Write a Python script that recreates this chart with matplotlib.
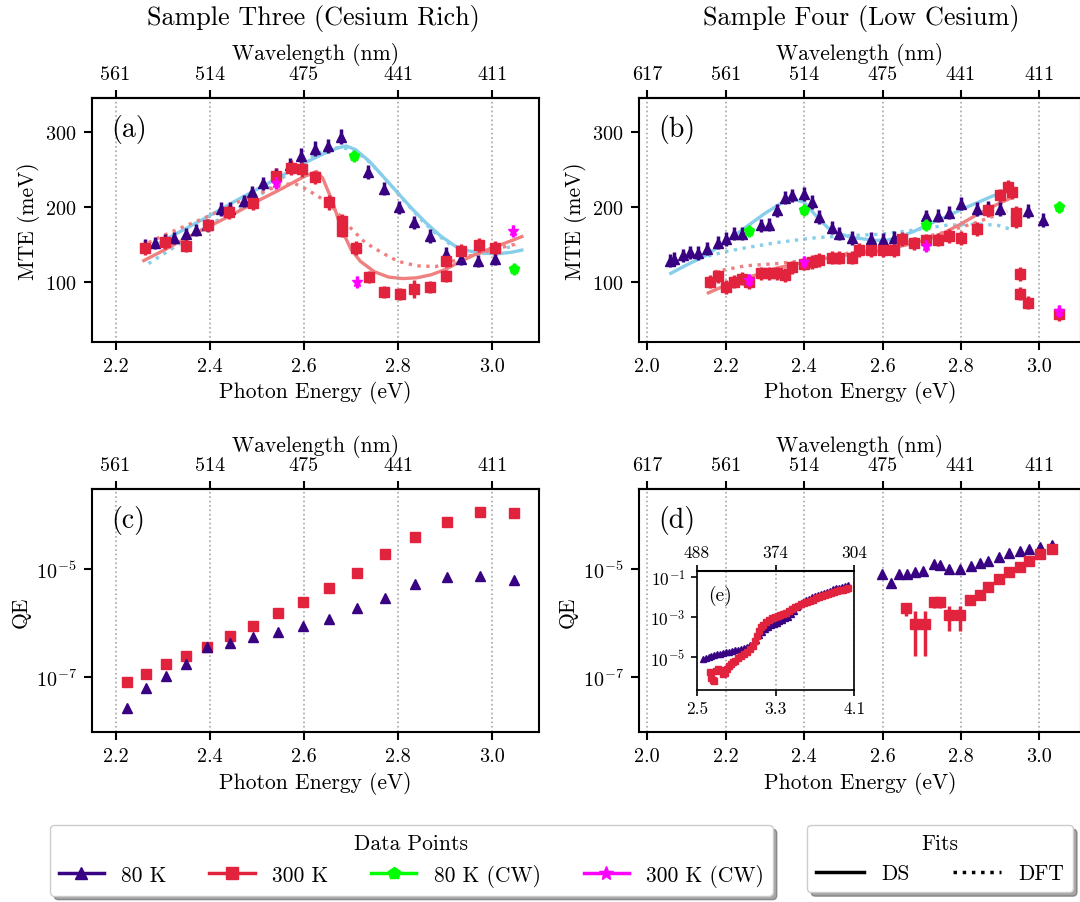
import matplotlib
matplotlib.use("Agg")
import matplotlib.pyplot as plt
import numpy as np
from matplotlib.lines import Line2D
from matplotlib.ticker import NullLocator

plt.rcParams["font.family"] = "serif"
plt.rcParams["font.serif"] = ["cmr10"]
plt.rcParams["mathtext.fontset"] = "cm"
plt.rcParams["axes.formatter.use_mathtext"] = True
plt.rcParams["axes.linewidth"] = 1.5

# colours
c80 = "#380282"
c300 = "#e2233e"
c80cw = "#00ff00"
c300cw = "#ff00ff"
fit80 = "skyblue"
fit300 = "lightcoral"

# ---------------- (a) Sample Three, MTE ----------------
a_e80 = [2.263, 2.284, 2.305, 2.324, 2.350, 2.370, 2.395, 2.424, 2.443, 2.473, 2.489, 2.514,
         2.541, 2.570, 2.594, 2.624, 2.652, 2.678, 2.736, 2.770, 2.802, 2.834, 2.868, 2.901,
         2.933, 2.969, 3.006]
a_mte80 = [148, 151, 155, 158, 163, 169, 176, 197, 197, 207, 219, 231,
           243, 256, 268, 277, 281, 293, 246, 224, 199, 179, 161, 137,
           130, 128, 130]
a_err80 = [9, 8, 8, 8, 8, 8, 8, 9, 9, 8, 9, 9,
           9, 9, 10, 10, 9, 10, 9, 9, 9, 9, 9, 9,
           8, 8, 8]

a_e300 = [2.263, 2.305, 2.349, 2.397, 2.440, 2.491, 2.540, 2.572, 2.595, 2.624, 2.654, 2.680,
          2.680, 2.711, 2.739, 2.770, 2.804, 2.834, 2.867, 2.901, 2.901, 2.934, 2.971, 3.005]
a_mte300 = [145, 153, 148, 175, 193, 205, 241, 252, 250, 239, 206, 181,
            168, 145, 106, 86, 84, 90, 93, 108, 128, 141, 149, 145]
a_err300 = [9, 9, 9, 9, 9, 9, 10, 10, 10, 9, 10, 9,
            9, 9, 8, 8, 8, 12, 8, 8, 9, 9, 9, 9]

a_e80cw = [2.707, 3.046]
a_mte80cw = [268, 117]
a_e300cw = [2.541, 2.712, 3.045]
a_mte300cw = [231, 100, 168]

a_ds80_e = [2.26, 2.30, 2.35, 2.40, 2.45, 2.50, 2.55, 2.60, 2.64, 2.67, 2.69, 2.71, 2.74,
            2.77, 2.80, 2.83, 2.86, 2.89, 2.92, 2.95, 2.98, 3.01, 3.04, 3.063]
a_ds80 = [140, 154, 171, 188, 206, 223, 240, 258, 270, 278, 281, 276, 260,
          239, 218, 197, 178, 161, 148, 141, 138, 137, 139, 142]
a_dft80_e = [2.27, 2.30, 2.35, 2.40, 2.45, 2.50, 2.55, 2.60, 2.63, 2.66, 2.68, 2.70, 2.73,
             2.76, 2.79, 2.82, 2.85, 2.88, 2.91, 2.94, 2.97, 3.00, 3.03, 3.05]
a_dft80 = [124, 136, 156, 176, 194, 212, 236, 260, 271, 278, 279, 276, 265,
           246, 225, 203, 182, 164, 150, 142, 139, 141, 145, 148]
a_ds300_e = [2.26, 2.30, 2.35, 2.40, 2.45, 2.50, 2.55, 2.60, 2.627, 2.64, 2.66, 2.68, 2.70,
             2.72, 2.75, 2.78, 2.81, 2.84, 2.87, 2.90, 2.93, 2.96, 3.00, 3.03, 3.063]
a_ds300 = [128, 141, 158, 174, 190, 207, 223, 240, 247, 238, 208, 170, 143,
           127, 113, 106, 104, 105, 109, 116, 126, 135, 145, 152, 160]
a_dft300_e = [2.27, 2.30, 2.34, 2.40, 2.47, 2.55, 2.58, 2.60, 2.63, 2.66, 2.70, 2.73, 2.77,
              2.80, 2.84, 2.88, 2.91, 2.95, 2.98, 3.01, 3.05]
a_dft300 = [152, 161, 172, 188, 209, 229, 231, 225, 214, 200, 171, 152, 137,
            127, 121, 120, 126, 134, 139, 144, 150]

# ---------------- (b) Sample Four, MTE ----------------
b_e80 = [2.058, 2.069, 2.090, 2.109, 2.129, 2.152, 2.180, 2.200, 2.220, 2.241, 2.290, 2.310,
         2.330, 2.351, 2.370, 2.400, 2.419, 2.438, 2.470, 2.490, 2.521, 2.571, 2.600, 2.630,
         2.711, 2.741, 2.770, 2.799, 2.840, 2.870, 2.900, 2.970, 3.010]
b_mte80 = [128, 130, 135, 139, 138, 144, 152, 157, 164, 164, 175, 176,
           195, 212, 215, 217, 206, 186, 172, 164, 158, 157, 156, 158,
           187, 188, 192, 204, 197, 199, 197, 194, 182]
b_err80 = [9] * len(b_e80)

b_e300 = [2.160, 2.180, 2.200, 2.220, 2.241, 2.260, 2.290, 2.310, 2.330, 2.351, 2.370, 2.400,
          2.419, 2.438, 2.470, 2.490, 2.521, 2.541, 2.571, 2.600, 2.630, 2.650, 2.681, 2.711,
          2.741, 2.770, 2.799, 2.840, 2.870, 2.900, 2.921, 2.929, 2.940, 2.940, 2.951, 2.951,
          2.970, 3.050]
b_mte300 = [100, 107, 93, 100, 104, 99, 111, 111, 111, 109, 119, 124,
            126, 129, 132, 132, 132, 142, 142, 142, 142, 157, 151, 155,
            156, 161, 158, 170, 195, 215, 226, 219, 192, 181, 110, 84,
            72, 57]
b_err300 = [9] * len(b_e300)

b_e80cw = [2.260, 2.400, 2.711, 3.050]
b_mte80cw = [168, 196, 175, 200]
b_e300cw = [2.260, 2.400, 2.711, 3.050]
b_mte300cw = [102, 126, 147, 61]

b_ds80_e = [2.06, 2.10, 2.15, 2.20, 2.25, 2.30, 2.34, 2.37, 2.40, 2.43, 2.46, 2.49,
            2.52, 2.55, 2.58, 2.61, 2.64, 2.68, 2.72, 2.76, 2.80, 2.84, 2.88, 2.92]
b_ds80 = [111, 122, 135, 153, 172, 191, 204, 210, 206, 188, 172, 164,
          159, 157, 155, 155, 159, 167, 177, 186, 196, 205, 214, 222]
b_dft80_e = [2.155, 2.20, 2.25, 2.33, 2.42, 2.50, 2.59, 2.67, 2.76, 2.84, 2.895, 2.925]
b_dft80 = [134, 140, 145, 152, 158, 161, 163, 168, 175, 177, 175, 170]
b_ds300_e = [2.156, 2.20, 2.25, 2.33, 2.42, 2.50, 2.59, 2.67, 2.72, 2.76, 2.80, 2.84, 2.88, 2.925]
b_ds300 = [85, 95, 104, 118, 128, 135, 141, 150, 157, 166, 177, 189, 200, 211]
b_dft300_e = [2.170, 2.25, 2.33, 2.42, 2.50, 2.59, 2.67, 2.76, 2.84, 2.918]
b_dft300 = [113, 121, 124, 129, 137, 143, 155, 166, 179, 194]

# ---------------- (c) Sample Three, QE (log10) ----------------
c_e = [2.224, 2.265, 2.307, 2.350, 2.395, 2.443, 2.493, 2.545, 2.598, 2.654, 2.712, 2.772,
       2.836, 2.903, 2.973, 3.046]
c_logqe300 = [-7.09, -6.94, -6.76, -6.61, -6.44, -6.24, -6.05, -5.82, -5.62, -5.35, -5.07, -4.73,
              -4.40, -4.13, -3.95, -3.96]
c_logqe80 = [-7.57, -7.21, -6.99, -6.76, -6.45, -6.37, -6.26, -6.16, -6.05, -5.92, -5.72, -5.54,
             -5.28, -5.14, -5.12, -5.20]

# ---------------- (d) Sample Four, QE (log10) ----------------
d_e80 = [2.598, 2.621, 2.642, 2.662, 2.683, 2.704, 2.730, 2.747, 2.770, 2.798, 2.825, 2.849,
         2.870, 2.898, 2.923, 2.951, 2.973, 3.002, 3.031]
d_logqe80 = [-5.09, -5.25, -5.09, -5.09, -5.06, -5.03, -4.91, -4.93, -4.99, -5.00, -4.94, -4.89,
             -4.85, -4.78, -4.71, -4.66, -4.63, -4.60, -4.55]
d_e300 = [2.659, 2.683, 2.707, 2.730, 2.747, 2.770, 2.798, 2.823, 2.849, 2.870, 2.898, 2.923,
          2.951, 2.973, 3.002, 3.031]
d_logqe300 = [-5.73, -6.02, -6.02, -5.62, -5.62, -5.85, -5.85, -5.57, -5.48, -5.34, -5.19, -5.06,
              -4.97, -4.86, -4.72, -4.62]
d_err300 = [0.50, 0.71, 0.71, 0.50, 0.50, 0.69, 0.69, 0.40, 0.35, 0.30, 0.35, 0.40,
            0.40, 0.40, 0.40, 0.40]  # in 1e-6

# ---------------- (e) inset, wide range QE (log10) ----------------
e_e80 = [2.56, 2.59, 2.62, 2.65, 2.68, 2.71, 2.74, 2.77, 2.80, 2.83, 2.86, 2.89, 2.92, 2.95,
         2.98, 3.01, 3.04, 3.07, 3.10, 3.13, 3.16, 3.19, 3.22, 3.25, 3.28, 3.31, 3.34, 3.37,
         3.40, 3.43, 3.46, 3.49, 3.52, 3.55, 3.58, 3.61, 3.64, 3.67, 3.70, 3.73, 3.76, 3.79,
         3.82, 3.85, 3.88, 3.91, 3.94, 3.97, 4.00, 4.03]
e_logqe80 = [-5.10, -5.06, -5.03, -4.97, -4.92, -4.88, -4.84, -4.80, -4.77, -4.74, -4.71, -4.68,
             -4.64, -4.60, -4.55, -4.49, -4.42, -4.32, -4.15, -3.92, -3.75, -3.62, -3.52, -3.43,
             -3.36, -3.29, -3.22, -3.16, -3.08, -3.00, -2.88, -2.72, -2.52, -2.38, -2.27, -2.18,
             -2.10, -2.03, -1.97, -1.92, -1.86, -1.80, -1.74, -1.69, -1.63, -1.58, -1.54, -1.50,
             -1.46, -1.42]
e_e300 = [2.63, 2.65, 2.665, 2.68, 2.70, 2.72, 2.745, 2.77, 2.79, 2.81, 2.83, 2.85, 2.87, 2.89,
          2.92, 2.95, 2.98, 3.01, 3.04, 3.07, 3.09, 3.11, 3.13, 3.15, 3.17, 3.20, 3.23, 3.26,
          3.29, 3.32, 3.35, 3.38, 3.41, 3.44, 3.47, 3.50, 3.53, 3.56, 3.59, 3.62, 3.65, 3.68,
          3.71, 3.74, 3.77, 3.80, 3.83, 3.86, 3.89, 3.92, 3.95, 3.98, 4.01, 4.03]
e_logqe300 = [-5.75, -6.05, -6.15, -6.20, -5.70, -5.62, -5.68, -5.85, -5.80, -5.60, -5.48, -5.38,
              -5.28, -5.20, -5.08, -4.97, -4.86, -4.74, -4.60, -4.45, -4.20, -3.95, -3.72, -3.52,
              -3.40, -3.28, -3.15, -3.05, -3.00, -2.96, -2.92, -2.86, -2.80, -2.72, -2.62, -2.52,
              -2.44, -2.38, -2.32, -2.26, -2.20, -2.14, -2.07, -2.01, -1.95, -1.90, -1.85, -1.80,
              -1.76, -1.72, -1.68, -1.64, -1.61, -1.58]

# tick labels
ticks3 = [2.2, 2.4, 2.6, 2.8, 3.0]
wl3 = ["561", "514", "475", "441", "411"]
ticks4 = [2.0, 2.2, 2.4, 2.6, 2.8, 3.0]
wl4 = ["617", "561", "514", "475", "441", "411"]
ticks_e = [2.5, 3.3, 4.1]
wl_e = ["488", "374", "304"]

W, H = 1080, 903
fig = plt.figure(figsize=(W / 100, H / 100), dpi=100)


def px_axes(x0, y0, x1, y1):
    return fig.add_axes([x0 / W, 1 - y1 / H, (x1 - x0) / W, (y1 - y0) / H])


def style(ax, xlim, ticks, wl, ylabel, letter):
    ax.set_xlim(xlim)
    ax.set_xticks(ticks)
    ax.set_xticklabels([f"{t:.1f}" for t in ticks])
    ax.tick_params(direction="out", length=6, width=1.5, labelsize=14.5, pad=5)
    ax.grid(axis="x", ls=":", color="0.65", lw=1.2)
    ax.set_xlabel("Photon Energy (eV)", fontsize=15.5)
    ax.set_ylabel(ylabel, fontsize=15.5)
    top = ax.secondary_xaxis("top")
    top.set_xticks(ticks, wl)
    top.tick_params(direction="out", length=6, width=1.5, labelsize=14.5, pad=5)
    top.set_xlabel("Wavelength (nm)", fontsize=15.5)
    ax.text(0.043, 0.875, letter, transform=ax.transAxes, fontsize=20, va="center")


def mte_panel(ax, e80, m80, s80, e300, m300, s300, e80cw, m80cw, e300cw, m300cw, fits):
    for fx, fy, col, ls in fits:
        ax.plot(fx, fy, color=col, ls=ls, lw=2.4, zorder=1)
    ax.errorbar(e80, m80, yerr=s80, fmt="^", color=c80, ms=7, elinewidth=2.5, capsize=0, zorder=3)
    ax.errorbar(e300, m300, yerr=s300, fmt="s", color=c300, ms=6.5, elinewidth=2.5, capsize=0, zorder=3)
    ax.errorbar(e80cw, m80cw, yerr=8, fmt="p", color=c80cw, ms=7, elinewidth=2.5, capsize=0, zorder=4)
    ax.errorbar(e300cw, m300cw, yerr=8, fmt="*", color=c300cw, ms=8, elinewidth=2.5, capsize=0, zorder=4)
    ax.set_ylim(20, 345)
    ax.set_yticks([100, 200, 300])


ax_a = px_axes(92, 99, 539.3, 342.5)
ax_b = px_axes(639, 99, 1081, 342.5)
ax_c = px_axes(92, 490.3, 539.3, 733.3)
ax_d = px_axes(639, 490.3, 1081, 733.3)

mte_panel(ax_a, a_e80, a_mte80, a_err80, a_e300, a_mte300, a_err300,
          a_e80cw, a_mte80cw, a_e300cw, a_mte300cw,
          [(a_ds80_e, a_ds80, fit80, "-"), (a_dft80_e, a_dft80, fit80, ":"),
           (a_ds300_e, a_ds300, fit300, "-"), (a_dft300_e, a_dft300, fit300, ":")])
mte_panel(ax_b, b_e80, b_mte80, b_err80, b_e300, b_mte300, b_err300,
          b_e80cw, b_mte80cw, b_e300cw, b_mte300cw,
          [(b_ds80_e, b_ds80, fit80, "-"), (b_dft80_e, b_dft80, fit80, ":"),
           (b_ds300_e, b_ds300, fit300, "-"), (b_dft300_e, b_dft300, fit300, ":")])

style(ax_a, (2.15, 3.10), ticks3, wl3, "MTE (meV)", "(a)")
style(ax_b, (1.979, 3.106), ticks4, wl4, "MTE (meV)", "(b)")

# QE panels
ax_c.plot(c_e, 10.0 ** np.array(c_logqe300), "s", color=c300, ms=7, zorder=3)
ax_c.plot(c_e, 10.0 ** np.array(c_logqe80), "^", color=c80, ms=7.5, zorder=3)
ax_d.plot(d_e80, 10.0 ** np.array(d_logqe80), "^", color=c80, ms=7.5, zorder=3)
ax_d.errorbar(d_e300, 10.0 ** np.array(d_logqe300), yerr=np.array(d_err300) * 1e-6,
              fmt="s", color=c300, ms=7, elinewidth=2.5, capsize=0, zorder=3)
for ax in (ax_c, ax_d):
    ax.set_yscale("log")
    ax.set_ylim(10 ** -8.03, 10 ** -3.52)
    ax.set_yticks([1e-7, 1e-5])
    ax.yaxis.set_minor_locator(NullLocator())

style(ax_c, (2.15, 3.10), ticks3, wl3, "QE", "(c)")
style(ax_d, (1.979, 3.106), ticks4, wl4, "QE", "(d)")

# inset (e)
ax_e = px_axes(696.7, 571.7, 854.4, 690.7)
ax_e.set_facecolor("none")
for sp in ax_e.spines.values():
    sp.set_linewidth(1.2)
ax_e.plot(e_e80, 10.0 ** np.array(e_logqe80), "^", color=c80, ms=4.5, zorder=3)
ax_e.plot(e_e300, 10.0 ** np.array(e_logqe300), "s", color=c300, ms=4.5, zorder=3)
ax_e.set_yscale("log")
ax_e.set_xlim(2.5, 4.1)
ax_e.set_ylim(10 ** -6.65, 10 ** -0.7)
ax_e.set_xticks(ticks_e)
ax_e.set_xticklabels(["2.5", "3.3", "4.1"])
ax_e.set_yticks([1e-5, 1e-3, 1e-1])
ax_e.yaxis.set_minor_locator(NullLocator())
ax_e.tick_params(direction="out", length=4, width=1.2, labelsize=12.5, pad=4)
ax_e.grid(axis="x", ls=":", color="0.65", lw=1.2)
top_e = ax_e.secondary_xaxis("top")
top_e.set_xticks(ticks_e, wl_e)
top_e.tick_params(direction="out", length=4, width=1.2, labelsize=12.5, pad=4)
ax_e.text(0.07, 0.80, "(e)", transform=ax_e.transAxes, fontsize=14, va="center")

# titles
fig.text(313 / W, 1 - 18 / H, "Sample Three (Cesium Rich)", ha="center", va="center", fontsize=18.8)
fig.text(861 / W, 1 - 18 / H, "Sample Four (Low Cesium)", ha="center", va="center", fontsize=18.8)

# legends
data_handles = [
    Line2D([], [], color=c80, marker="^", ms=9, lw=2.5),
    Line2D([], [], color=c300, marker="s", ms=8, lw=2.5),
    Line2D([], [], color=c80cw, marker="p", ms=9, lw=2.5),
    Line2D([], [], color=c300cw, marker="*", ms=10, lw=2.5),
]
leg1 = fig.legend(data_handles, ["80 K", "300 K", "80 K (CW)", "300 K (CW)"],
                  loc="upper left", bbox_to_anchor=(50 / W, 1 - 826 / H), ncol=4,
                  title="Data Points", fontsize=15.5, title_fontsize=15.5,
                  handlelength=2.1, fancybox=True, shadow={"ox": 3, "oy": -3},
                  framealpha=1, edgecolor="0.8", borderaxespad=0)
fit_handles = [
    Line2D([], [], color="k", lw=2.5),
    Line2D([], [], color="k", lw=2.5, ls=":"),
]
leg2 = fig.legend(fit_handles, ["DS", "DFT"],
                  loc="upper left", bbox_to_anchor=(807 / W, 1 - 826 / H), ncol=2,
                  title="Fits", fontsize=15.5, title_fontsize=15.5,
                  handlelength=2.25, fancybox=True, shadow={"ox": 3, "oy": -3},
                  framealpha=1, edgecolor="0.8", borderaxespad=0)

fig.savefig("out.png", dpi=100)
